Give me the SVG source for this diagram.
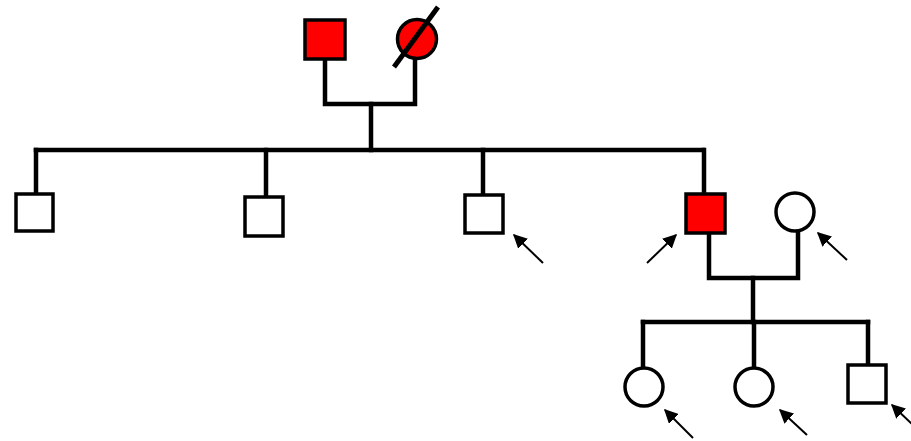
<svg xmlns="http://www.w3.org/2000/svg" width="911" height="441" viewBox="0 0 911 441">
<defs>
<style>
.sq{stroke:#000;stroke-width:3.5;fill:#fff}
.ci{stroke:#000;stroke-width:3.5;fill:#fff}
.aff{fill:#ff0000}
.ln{stroke:#000;stroke-width:4.5;fill:none;stroke-linecap:square}
.ar{stroke:#000;stroke-width:2;fill:none;marker-end:url(#ah)}
</style>
<marker id="ah" viewBox="0 0 10 10" refX="9" refY="5" markerWidth="7" markerHeight="7" markerUnits="strokeWidth" orient="auto">
<path d="M0,0 L10,5 L0,10 z" fill="#000"/>
</marker>
</defs>
<rect width="911" height="441" fill="#fff"/>
<g id="connectors">
<polyline class="ln" points="325,59 325,104 415,104 415,59"/>
<line class="ln" x1="371" y1="104" x2="371" y2="150"/>
<line class="ln" x1="36" y1="150" x2="703" y2="150"/>
<line class="ln" x1="36" y1="150" x2="36" y2="193"/>
<line class="ln" x1="266" y1="150" x2="266" y2="196"/>
<line class="ln" x1="483" y1="150" x2="483" y2="195"/>
<line class="ln" x1="704" y1="150" x2="704" y2="193"/>
<polyline class="ln" points="709,233 709,278 798,278 798,231"/>
<line class="ln" x1="753" y1="278" x2="753" y2="322"/>
<line class="ln" x1="643" y1="322" x2="868" y2="322"/>
<line class="ln" x1="643" y1="322" x2="643" y2="368"/>
<line class="ln" x1="754" y1="322" x2="754" y2="368"/>
<line class="ln" x1="868" y1="322" x2="868" y2="364"/>
<line class="ar" x1="543" y1="263" x2="514" y2="235"/>
<line class="ar" x1="647" y1="263" x2="676" y2="235"/>
<line class="ar" x1="847" y1="260" x2="818" y2="233"/>
<line class="ar" x1="693" y1="438" x2="665" y2="410"/>
<line class="ar" x1="807" y1="435" x2="780" y2="410"/>
<line class="ar" x1="913" y1="425" x2="892" y2="405"/>
</g>
<g id="grandfather"><rect class="sq aff" x="305" y="20" width="40" height="39"/></g>
<g id="grandmother"><circle class="ci aff" cx="417" cy="39" r="19.5"/><line x1="394" y1="67" x2="438" y2="7" stroke="#000" stroke-width="5"/></g>
<g id="child1"><rect class="sq" x="16" y="194" width="37" height="37"/></g>
<g id="child2"><rect class="sq" x="245" y="197" width="38" height="39"/></g>
<g id="child3"><rect class="sq" x="465" y="195" width="38" height="38"/></g>
<g id="child4"><rect class="sq aff" x="686" y="194" width="39" height="39"/></g>
<g id="spouse"><circle class="ci" cx="795" cy="212" r="19"/></g>
<g id="grandchild1"><circle class="ci" cx="644" cy="387" r="19"/></g>
<g id="grandchild2"><circle class="ci" cx="754" cy="387" r="19"/></g>
<g id="grandchild3"><rect class="sq" x="848" y="365" width="38" height="38"/></g>
</svg>
